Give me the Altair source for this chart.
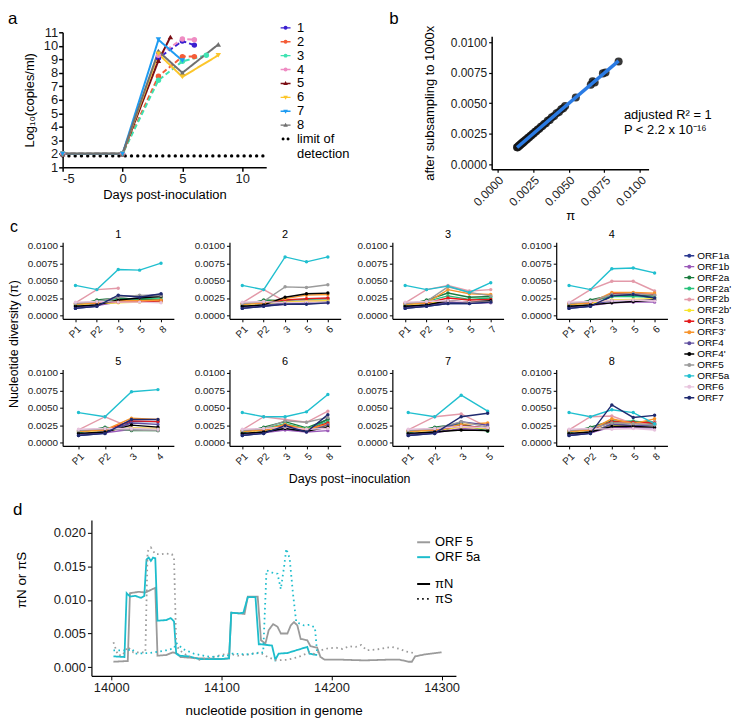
import altair as alt
import pandas as pd

FONT = "Liberation Sans"

# ---------------- panel a : viral load ----------------
mice = ["1", "2", "3", "4", "5", "6", "7", "8"]
mouse_colors = ["#3a1fd0", "#f45c37", "#3fe3b2", "#ef8cc3", "#7b0d13", "#fcc62b", "#1f9cf2", "#707070"]
mouse_markers = ["circle", "circle", "circle", "circle", "triangle-up", "triangle-down", "triangle-down", "triangle-up"]
mouse_style = ["dash", "dash", "dash", "dash", "solid", "solid", "solid", "solid"]
load_days = {
    "1": [-5, 0, 3, 5, 6],
    "2": [-5, 0, 3, 5, 6],
    "3": [-5, 0, 3, 5, 7],
    "4": [-5, 0, 3, 5, 6],
    "5": [-5, 0, 3, 4],
    "6": [-5, 0, 3, 5, 8],
    "7": [-5, 0, 3, 5],
    "8": [-5, 0, 3, 5, 8],
}
load_values = {
    "1": [2, 2, 9.1, 10.35, 10.05],
    "2": [2, 2, 7.75, 9.2, 9.2],
    "3": [2, 2, 7.45, 8.85, 9.3],
    "4": [2, 2, 9.3, 10.5, 10.45],
    "5": [2, 2, 8.9, 10.65],
    "6": [2, 2, 9.4, 7.7, 9.3],
    "7": [2, 2, 10.45, 8.9],
    "8": [2, 2, 9.6, 8.0, 10.1],
}
lod_days = [-5, 12]
lod_values = [1.85, 1.85]
lod_name = "limit of detection"

# ---------------- panel b : subsampling ----------------
b_pi = [0.00138, 0.00142, 0.00148, 0.00152, 0.00157, 0.00161, 0.00166, 0.00170, 0.00175, 0.00180,
        0.00184, 0.00189, 0.00195, 0.00201, 0.00208, 0.00215, 0.00222, 0.00230, 0.00238, 0.00246,
        0.00255, 0.00264, 0.00273, 0.00283, 0.00294, 0.00305, 0.00316, 0.00328, 0.00340, 0.00353,
        0.00367, 0.00382, 0.00398, 0.00415, 0.00432, 0.00448, 0.00462, 0.00475, 0.00550, 0.00655,
        0.00668, 0.00682, 0.00740, 0.00758, 0.00850]
b_sub = [0.00140, 0.00139, 0.00146, 0.00155, 0.00154, 0.00163, 0.00164, 0.00172, 0.00173, 0.00182,
         0.00181, 0.00191, 0.00193, 0.00203, 0.00206, 0.00217, 0.00220, 0.00232, 0.00236, 0.00248,
         0.00252, 0.00266, 0.00270, 0.00285, 0.00291, 0.00307, 0.00313, 0.00330, 0.00337, 0.00356,
         0.00364, 0.00385, 0.00395, 0.00418, 0.00429, 0.00451, 0.00459, 0.00478, 0.00548, 0.00652,
         0.00680, 0.00671, 0.00745, 0.00752, 0.00842]
b_notes = ["adjusted R\u00b2 = 1", "P < 2.2 x 10\u207b\u00b9\u2076"]
b_note_x = [0.00887, 0.00887]
b_note_y = [0.00400, 0.00278]

# ---------------- panel c : diversity per ORF ----------------
orfs = ["ORF1a", "ORF1b", "ORF2a", "ORF2a'", "ORF2b", "ORF2b'", "ORF3", "ORF3'",
        "ORF4", "ORF4'", "ORF5", "ORF5a", "ORF6", "ORF7"]
orf_colors = ["#2b3990", "#9a59b8", "#1b7b3e", "#27c17b", "#e39aa9", "#f8e52c", "#e31a1c", "#f7942c",
              "#5c4b9d", "#000000", "#9b9b9b", "#20bfcf", "#e7c3dd", "#1f2a6f"]
pi_P1 = [0.0010, 0.0012, 0.0014, 0.0015, 0.0018, 0.0016, 0.0017, 0.0016, 0.0012, 0.0013, 0.0017, 0.0043, 0.0019, 0.0010]
pi_P2 = [0.0013, 0.0014, 0.0022, 0.0020, 0.0037, 0.0017, 0.0018, 0.0018, 0.0015, 0.0015, 0.0020, 0.0037, 0.0020, 0.0013]
c_days = {"1": ["3", "5", "8"], "2": ["3", "5", "6"], "3": ["3", "5", "7"], "4": ["3", "5", "6"],
          "5": ["3", "4"], "6": ["3", "5", "8"], "7": ["3", "5"], "8": ["3", "5", "8"]}
c_vals = {
    "1": [[0.0028, 0.0027, 0.0029], [0.0019, 0.0020, 0.0020], [0.0025, 0.0023, 0.0022], [0.0023, 0.0024, 0.0025],
          [0.0039, None, None], [0.0018, 0.0019, 0.0019], [0.0019, 0.0020, 0.0021], [0.0021, 0.0021, 0.0022],
          [0.0027, 0.0028, 0.0030], [0.0022, 0.0025, 0.0027], [0.0026, 0.0029, 0.0028], [0.0066, 0.0065, 0.0075],
          [0.0019, 0.0019, 0.0018], [0.0029, 0.0026, 0.0031]],
    "2": [[0.0017, 0.0018, 0.0019], [0.0016, 0.0017, 0.0018], [0.0021, 0.0023, 0.0024], [0.0020, 0.0022, 0.0023],
          [0.0020, 0.0021, 0.0022], [0.0019, 0.0020, 0.0021], [0.0022, 0.0024, 0.0025], [0.0024, 0.0029, 0.0030],
          [0.0017, 0.0018, 0.0019], [0.0026, 0.0031, 0.0032], [0.0041, 0.0040, 0.0044], [0.0084, 0.0077, 0.0084],
          [0.0018, 0.0019, 0.0019], [0.0016, 0.0016, 0.0018]],
    "3": [[0.0017, 0.0017, 0.0019], [0.0018, 0.0018, 0.0018], [0.0032, 0.0026, 0.0027], [0.0028, 0.0023, 0.0025],
          [0.0043, 0.0035, 0.0037], [0.0020, 0.0019, 0.0020], [0.0025, 0.0022, 0.0023], [0.0037, 0.0031, 0.0030],
          [0.0019, 0.0018, 0.0019], [0.0021, 0.0019, 0.0021], [0.0041, 0.0033, 0.0028], [0.0042, 0.0033, 0.0047],
          [0.0021, 0.0019, 0.0019], [0.0017, 0.0017, 0.0019]],
    "4": [[0.0027, 0.0030, 0.0025], [0.0018, 0.0019, 0.0019], [0.0029, 0.0029, 0.0028], [0.0027, 0.0027, 0.0026],
          [0.0049, 0.0049, 0.0035], [0.0022, 0.0023, 0.0024], [0.0031, 0.0031, 0.0030], [0.0033, 0.0033, 0.0032],
          [0.0021, 0.0021, 0.0022], [0.0018, 0.0020, 0.0022], [0.0030, 0.0031, 0.0029], [0.0067, 0.0068, 0.0061],
          [0.0021, 0.0022, 0.0021], [0.0028, 0.0030, 0.0025]],
    "5": [[0.0030, 0.0030], [0.0019, 0.0018], [0.0017, 0.0017], [0.0020, 0.0019],
          [0.0021, 0.0020], [0.0021, 0.0020], [0.0031, 0.0030], [0.0035, 0.0033],
          [0.0028, 0.0026], [0.0025, 0.0022], [0.0018, 0.0017], [0.0073, 0.0076],
          [0.0020, 0.0019], [0.0033, 0.0033]],
    "6": [[0.0024, 0.0016, 0.0034], [0.0018, 0.0015, 0.0017], [0.0030, 0.0021, 0.0033], [0.0027, 0.0020, 0.0030],
          [0.0033, 0.0029, 0.0045], [0.0022, 0.0019, 0.0024], [0.0025, 0.0018, 0.0028], [0.0026, 0.0019, 0.0026],
          [0.0020, 0.0016, 0.0025], [0.0020, 0.0016, 0.0022], [0.0031, 0.0029, 0.0036], [0.0037, 0.0044, 0.0069],
          [0.0022, 0.0019, 0.0020], [0.0024, 0.0015, 0.0040]],
    "7": [[0.0025, 0.0020], [0.0020, 0.0018], [0.0027, 0.0016], [0.0025, 0.0019],
          [0.0041, 0.0022], [0.0022, 0.0020], [0.0024, 0.0021], [0.0026, 0.0028],
          [0.0030, 0.0025], [0.0018, 0.0017], [0.0030, 0.0022], [0.0068, 0.0045],
          [0.0023, 0.0021], [0.0037, 0.0042]],
    "8": [[0.0027, 0.0024, 0.0026], [0.0022, 0.0021, 0.0021], [0.0031, 0.0030, 0.0030], [0.0029, 0.0031, 0.0027],
          [0.0038, 0.0027, 0.0030], [0.0025, 0.0024, 0.0025], [0.0030, 0.0029, 0.0028], [0.0034, 0.0027, 0.0034],
          [0.0026, 0.0024, 0.0025], [0.0023, 0.0023, 0.0022], [0.0028, 0.0027, 0.0025], [0.0047, 0.0043, 0.0027],
          [0.0019, 0.0020, 0.0018], [0.0054, 0.0036, 0.0039]],
}
c_ticks = [0.0, 0.0025, 0.005, 0.0075, 0.01]

# ---------------- panel d : piN / piS sliding window ----------------
d_orfs = ["ORF 5", "ORF 5a"]
d_orf_colors = ["#9b9b9b", "#1dbdcc"]
d_types = ["\u03c0N", "\u03c0S"]
orf5_N_pos = [14002, 14015, 14017, 14025, 14031, 14040, 14042, 14050, 14056, 14060, 14063, 14080, 14100, 14107,
              14109, 14116, 14121, 14124, 14133, 14136, 14140, 14143, 14147, 14151, 14154, 14160, 14163, 14166,
              14169, 14172, 14178, 14181, 14187, 14190, 14194, 14210, 14230, 14250, 14262, 14270, 14273, 14276,
              14285, 14300]
orf5_N_val = [0.0008, 0.0009, 0.0110, 0.0112, 0.0111, 0.0118, 0.0017, 0.0018, 0.0022, 0.0020, 0.0015, 0.0013,
              0.0012, 0.0013, 0.0081, 0.0080, 0.0079, 0.0105, 0.0105, 0.0040, 0.0035, 0.0055, 0.0064, 0.0060,
              0.0050, 0.0050, 0.0062, 0.0067, 0.0062, 0.0042, 0.0040, 0.0031, 0.0029, 0.0015, 0.0011, 0.0011,
              0.0010, 0.0011, 0.0011, 0.0008, 0.0008, 0.0016, 0.0019, 0.0022]
orf5a_N_pos = [14002, 14012, 14014, 14017, 14022, 14027, 14030, 14032, 14034, 14036, 14038, 14040, 14042, 14050,
               14054, 14057, 14059, 14062, 14070, 14080, 14100, 14107, 14109, 14116, 14120, 14124, 14131, 14134,
               14136, 14146, 14149, 14152, 14160, 14170, 14178, 14180, 14183, 14187]
orf5a_N_val = [0.0016, 0.0015, 0.0110, 0.0105, 0.0106, 0.0103, 0.0106, 0.0160, 0.0163, 0.0158, 0.0163, 0.0162,
               0.0069, 0.0070, 0.0073, 0.0068, 0.0020, 0.0017, 0.0016, 0.0012, 0.0012, 0.0013, 0.0081, 0.0080,
               0.0081, 0.0104, 0.0104, 0.0034, 0.0034, 0.0032, 0.0011, 0.0020, 0.0021, 0.0026, 0.0030, 0.0020,
               0.0019, 0.0018]
orf5_S_pos = [14002, 14006, 14010, 14015, 14020, 14028, 14031, 14033, 14036, 14040, 14045, 14050, 14055, 14057,
              14059, 14063, 14070, 14080, 14090, 14100, 14107, 14115, 14125, 14135, 14142, 14150, 14160, 14170,
              14180, 14185, 14190, 14197, 14204, 14210, 14216, 14222, 14227, 14232, 14240, 14247, 14255, 14262,
              14268, 14272, 14276]
orf5_S_val = [0.0037, 0.0018, 0.0017, 0.0030, 0.0022, 0.0022, 0.0022, 0.0172, 0.0178, 0.0168, 0.0168, 0.0169,
              0.0168, 0.0163, 0.0032, 0.0024, 0.0016, 0.0011, 0.0014, 0.0018, 0.0020, 0.0017, 0.0019, 0.0022,
              0.0015, 0.0010, 0.0011, 0.0015, 0.0022, 0.0019, 0.0025, 0.0028, 0.0029, 0.0027, 0.0031, 0.0030,
              0.0033, 0.0025, 0.0026, 0.0028, 0.0030, 0.0027, 0.0023, 0.0022, 0.0020]
orf5a_S_pos = [14002, 14015, 14019, 14022, 14035, 14050, 14057, 14059, 14065, 14075, 14090, 14105, 14110, 14125,
               14138, 14141, 14147, 14151, 14154, 14157, 14159, 14162, 14165, 14168, 14175, 14180, 14185, 14187]
orf5a_S_val = [0.0025, 0.0025, 0.0027, 0.0020, 0.0021, 0.0025, 0.0028, 0.0036, 0.0027, 0.0020, 0.0015, 0.0017,
               0.0020, 0.0019, 0.0022, 0.0144, 0.0140, 0.0139, 0.0116, 0.0150, 0.0176, 0.0162, 0.0110, 0.0067,
               0.0062, 0.0063, 0.0059, 0.0020]

# ---------------- layout (pixels, relative to panel a's plot origin) ----------------
W, H = 609, 648
A_X, A_Y = [0, 205], [136, 0]
B_X, B_Y = [432, 590], [138, 4]
C_LEFT = [0, 168, 332, 497]
C_TOP = [211.5, 339.5]
C_W, C_H = 112, 77
D_X, D_Y = [29, 396], [648, 491]

BAR = "M-1,-0.14H1V0.14H-1Z "
CIRC = "M-0.4,0A0.4,0.4 0 1,1 0.4,0A0.4,0.4 0 1,1 -0.4,0Z"
TUP = "M0,-0.5L0.46,0.32L-0.46,0.32Z"
TDN = "M-0.46,-0.32L0.46,-0.32L0,0.5Z"
DOTS = "M-0.8,0A0.3,0.3 0 1,1 -0.2,0A0.3,0.3 0 1,1 -0.8,0Z M0.2,0A0.3,0.3 0 1,1 0.8,0A0.3,0.3 0 1,1 0.2,0Z"


def label(txt, x, y, size=17, angle=0, align="left", baseline="alphabetic"):
    return alt.Chart(pd.DataFrame({"t": [txt]})).mark_text(
        align=align, baseline=baseline, fontSize=size, font=FONT, angle=angle, color="black"
    ).encode(text="t:N", x=alt.value(x), y=alt.value(y))


# ---------------- panel a ----------------
rows = []
for i, m in enumerate(mice):
    for d, v in zip(load_days[m], load_values[m]):
        rows.append({"mouse": m, "day": d, "load": v, "style": mouse_style[i], "marker": mouse_markers[i]})
df_a = pd.DataFrame(rows)
df_lod = pd.DataFrame({"day": lod_days, "load": lod_values})

xa = alt.X("day:Q", scale=alt.Scale(domain=[-5, 12], range=A_X, nice=False, zero=False),
           axis=alt.Axis(orient="bottom", offset=A_Y[0] - H, values=[-5, 0, 5, 10], title="Days post-inoculation",
                         labelExpr="toString(datum.value)",
                         labelFontSize=13, titleFontSize=13, tickSize=4, tickWidth=1.5, domainWidth=1.5,
                         labelPadding=1, titlePadding=3))
ya = alt.Y("load:Q", scale=alt.Scale(domain=[1, 11], range=A_Y, nice=False, zero=False),
           axis=alt.Axis(orient="left", offset=-A_X[0], values=list(range(1, 12)), title="Log\u2081\u2080(copies/ml)",
                         labelFontSize=13, titleFontSize=13, tickSize=4, tickWidth=1.5, domainWidth=1.5,
                         labelPadding=1, titlePadding=7))
col_a = alt.Color("mouse:N", scale=alt.Scale(domain=mice, range=mouse_colors), legend=None)

a_lod = alt.Chart(df_lod).mark_line(color="black", strokeWidth=3.3, strokeDash=[0.1, 6.2], strokeCap="round").encode(
    x=xa, y=ya)
a_lines = alt.Chart(df_a).mark_line(strokeWidth=2).encode(
    x=xa, y=ya, color=col_a,
    strokeDash=alt.StrokeDash("style:N", scale=alt.Scale(domain=["dash", "solid"], range=[[5, 3], [1, 0]]),
                              legend=None),
    detail="mouse:N")
a_pts = []
for shp in ["circle", "triangle-up", "triangle-down"]:
    a_pts.append(alt.Chart(df_a).transform_filter(alt.datum.marker == shp).mark_point(
        filled=True, shape=shp, size=30, opacity=1).encode(x=xa, y=ya, color=col_a))

lg_names = mice + [lod_name]
lg_colors = mouse_colors + ["black"]
lg_paths = [BAR + CIRC] * 4 + [BAR + TUP, BAR + TDN, BAR + TDN, BAR + TUP] + [DOTS]
legend_a = alt.Legend(title=None, orient="none", legendX=218, legendY=-11, symbolSize=100, labelFontSize=13,
                      labelFont=FONT, rowPadding=0, labelOffset=5, padding=0, symbolStrokeWidth=0,
                      labelColor="black",
                      labelExpr="datum.label == 'limit of detection' ? ['limit of', 'detection'] : datum.label")
df_lg = pd.DataFrame({"name": lg_names, "day": [0] * len(lg_names), "load": [2] * len(lg_names)})
a_legend = alt.Chart(df_lg).transform_filter("false").mark_point(filled=True, opacity=1).encode(
    x=xa, y=ya,
    fill=alt.Fill("name:N", scale=alt.Scale(domain=lg_names, range=lg_colors), legend=legend_a),
    shape=alt.Shape("name:N", scale=alt.Scale(domain=lg_names, range=lg_paths), legend=legend_a))
panel_a = alt.layer(a_lod, a_lines, *a_pts, a_legend)

# ---------------- panel b ----------------
df_b = pd.DataFrame({"pi": b_pi, "sub": b_sub})
df_bn = pd.DataFrame({"note": b_notes, "pi": b_note_x, "sub": b_note_y})
b_ticks = [0.0, 0.0025, 0.005, 0.0075, 0.01]
xb = alt.X("pi:Q", scale=alt.Scale(domain=[-0.0004, 0.0106], range=B_X, nice=False, zero=False),
           axis=alt.Axis(orient="bottom", offset=B_Y[0] - H, values=b_ticks, format=".4f", labelAngle=315,
                         labelFontSize=12, title="\u03c0", titleFontSize=13, tickSize=3, domainWidth=1.5,
                         tickWidth=1.2, titlePadding=2))
yb = alt.Y("sub:Q", scale=alt.Scale(domain=[-0.00041, 0.01049], range=B_Y, nice=False, zero=False),
           axis=alt.Axis(orient="left", offset=-B_X[0], values=b_ticks, format=".4f", labelFontSize=12,
                         title="after subsampling to 1000x", titleFontSize=13, tickSize=3, domainWidth=1.5,
                         tickWidth=1.2, titlePadding=14))
b_pts = alt.Chart(df_b).mark_circle(size=66, color="#151515", opacity=0.85).encode(x=xb, y=yb)
b_fit = alt.Chart(df_b).transform_regression("pi", "sub").mark_line(color="#2a7be4", strokeWidth=3.5).encode(
    x=xb, y=yb)
b_txt = alt.Chart(df_bn).mark_text(align="left", baseline="middle", fontSize=13, font=FONT, color="black").encode(
    x=xb, y=yb, text="note:N")
panel_b = alt.layer(b_pts, b_fit, b_txt)

# ---------------- panel c ----------------
legend_c = alt.Legend(title=None, orient="none", legendX=626, legendY=220, symbolSize=100, labelFontSize=10,
                      labelFont=FONT, rowPadding=1, labelOffset=3, padding=0, symbolType=BAR + CIRC,
                      symbolStrokeWidth=0, labelColor="black")
# colour scale of the lines carries one unused trailing entry so that it is kept apart from the legend's fill scale
line_scale = alt.Scale(domain=orfs + [" "], range=orf_colors + ["#ffffff"])
legend_scale = alt.Scale(domain=orfs, range=orf_colors)


def c_panel(m, col, row, with_legend=False):
    tps = ["P1", "P2"] + c_days[m]
    rws = []
    for k, orf in enumerate(orfs):
        seq = [pi_P1[k], pi_P2[k]] + c_vals[m][k]
        for j, (tp, v) in enumerate(zip(tps, seq)):
            if v is not None:
                rws.append({"tp": tp, "idx": j, "orf": orf, "pi": v})
    df = pd.DataFrame(rws)
    left, top = C_LEFT[col], C_TOP[row]
    x = alt.X("tp:N", sort=tps, scale=alt.Scale(type="point", padding=0.6, range=[left, left + C_W]),
              axis=alt.Axis(orient="bottom", offset=top + C_H - H, title=None, labelAngle=315, labelFontSize=10,
                            tickSize=3, labelPadding=2, domainWidth=1.2))
    y = alt.Y("pi:Q", scale=alt.Scale(domain=[-0.0005, 0.0105], range=[top + C_H, top], nice=False, zero=False),
              axis=alt.Axis(orient="left", offset=-left, title=None, values=c_ticks, format=".4f",
                            labelFontSize=10, tickSize=3, domainWidth=1.2, labelPadding=2))
    lines = alt.Chart(df).mark_line(strokeWidth=1.4).encode(
        x=x, y=y, color=alt.Color("orf:N", scale=line_scale, legend=None), order="idx:Q")
    pts = alt.Chart(df).mark_point(filled=True, size=12, opacity=1).encode(
        x=x, y=y, color=alt.Color("orf:N", scale=line_scale, legend=None))
    layers = [lines, pts, label(m, left + C_W / 2, top - 4, 11, align="center")]
    if with_legend:
        layers.append(alt.Chart(df).transform_filter("false").mark_point(filled=True, opacity=1).encode(
            x=x, y=y, fill=alt.Fill("orf:N", scale=legend_scale, legend=legend_c)))
    return alt.layer(*layers)


c_panels = []
for n, m in enumerate(mice):
    c_panels.append(c_panel(m, n % 4, n // 4, with_legend=(m == "4")))

# ---------------- panel d ----------------
d_rows = []
for orf, typ, ps, vs in [("ORF 5", "\u03c0N", orf5_N_pos, orf5_N_val), ("ORF 5a", "\u03c0N", orf5a_N_pos, orf5a_N_val),
                         ("ORF 5", "\u03c0S", orf5_S_pos, orf5_S_val), ("ORF 5a", "\u03c0S", orf5a_S_pos, orf5a_S_val)]:
    for p, v in zip(ps, vs):
        d_rows.append({"orf": orf, "type": typ, "pos": p, "val": v, "series": orf + typ})
df_d = pd.DataFrame(d_rows)
xd = alt.X("pos:Q", scale=alt.Scale(domain=[13982, 14313], range=D_X, nice=False, zero=False),
           axis=alt.Axis(orient="bottom", offset=D_Y[0] - H, values=[14000, 14100, 14200, 14300], format="d",
                         title="nucleotide position in genome", labelFontSize=13, titleFontSize=13.5, tickSize=4,
                         domainWidth=1.2, titlePadding=9))
yd = alt.Y("val:Q", scale=alt.Scale(domain=[-0.0013, 0.0219], range=D_Y, nice=False, zero=False),
           axis=alt.Axis(orient="left", offset=-D_X[0], values=[0, 0.005, 0.01, 0.015, 0.02], format=".3f",
                         title="\u03c0N or \u03c0S", labelFontSize=13, titleFontSize=13.5, tickSize=4,
                         domainWidth=1.2, titlePadding=25, titleY=551))
legend_d1 = alt.Legend(title=None, orient="none", legendX=356, legendY=506, symbolType="stroke", symbolSize=169,
                       symbolStrokeWidth=2, labelFontSize=13, labelFont=FONT, rowPadding=0, labelOffset=4,
                       padding=0, labelColor="black")
legend_d2 = alt.Legend(title=None, orient="none", legendX=356, legendY=548, symbolType="stroke", symbolSize=169,
                       symbolStrokeWidth=2, labelFontSize=13, labelFont=FONT, rowPadding=0, labelOffset=4,
                       padding=0, symbolStrokeColor="black", labelColor="black")
panel_d = alt.Chart(df_d).mark_line(strokeWidth=1.8).encode(
    x=xd, y=yd,
    color=alt.Color("orf:N", scale=alt.Scale(domain=d_orfs, range=d_orf_colors), legend=legend_d1),
    strokeDash=alt.StrokeDash("type:N", scale=alt.Scale(domain=d_types, range=[[1, 0], [1.6, 3.4]]),
                              legend=legend_d2),
    detail="series:N")

# ---------------- free texts ----------------
texts = [
    label("a", -55, -8, 17),
    label("b", 329, -8, 17),
    label("c", -53, 201, 16),
    label("d", -50, 486, 17),
    label("Nucleotide diversity (\u03c0)", -49, 314, 12.5, angle=270, align="center", baseline="middle"),
    label("Days post\u2212inoculation", 289, 450, 12.5, align="center", baseline="middle"),
]

INDEP = dict(x="independent", y="independent", color="independent", fill="independent",
             shape="independent", strokeDash="independent")
chart = alt.layer(panel_a, panel_b, *c_panels, panel_d, *texts).resolve_scale(**INDEP).resolve_legend(
    color="independent", fill="independent", shape="independent", strokeDash="independent"
).properties(width=W, height=H, padding=0).configure(font=FONT).configure_view(stroke=None).configure_axis(
    grid=False, domainColor="black", tickColor="black", labelColor="#1a1a1a", titleColor="black",
    titleFontWeight="normal", labelFont=FONT, titleFont=FONT)

chart.save("out.html", embed_options={"renderer": "svg", "actions": False})
